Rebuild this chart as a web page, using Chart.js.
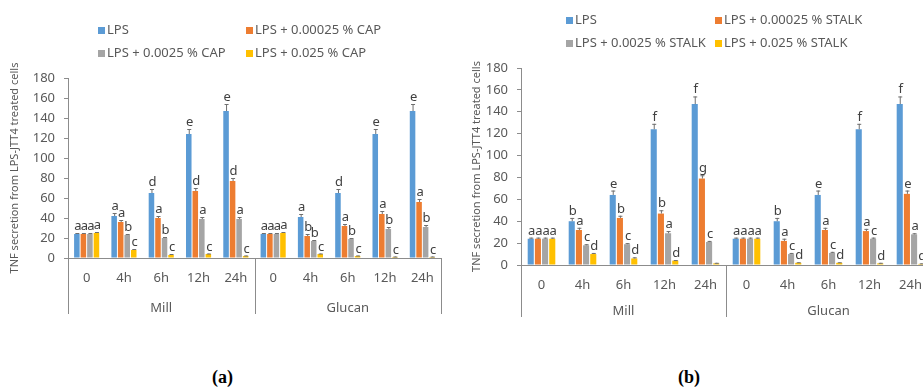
<!DOCTYPE html>
<html>
<head>
<meta charset="utf-8">
<script src="https://cdn.jsdelivr.net/npm/chart.js@4/dist/chart.umd.min.js"></script>
<style>
  body { margin: 0; background: #fff; overflow: hidden; width: 923px; height: 389px; position: relative; }
  canvas { position: absolute; top: 0; }
  #chartA { left: 0; }
  #chartB { left: 460px; }
  .cap { position: absolute; font: bold 18px "Liberation Serif", "DejaVu Serif", serif; color: #000; }
</style>
</head>
<body>
<canvas id="chartA" width="460" height="330"></canvas>
<canvas id="chartB" width="490" height="330"></canvas>
<div class="cap" style="left:212px; top:367px">(a)</div>
<div class="cap" style="left:678px; top:367px">(b)</div>
<script>
const times = ['0', '4h', '6h', '12h', '24h', '0', '4h', '6h', '12h', '24h']
const groups = ['Mill', 'Glucan']
const colors = ['#5B9BD5', '#ED7D31', '#A5A5A5', '#FFC000']
const yTitle = 'TNF secretion from LPS-JTT4 treated cells'

// (a) CAP
const capNames = ['LPS', 'LPS + 0.00025 % CAP', 'LPS + 0.0025 % CAP', 'LPS + 0.025 % CAP']
const capLps = [24, 42, 65, 124, 147, 24, 41, 65, 124, 147]
const capLow = [24, 36, 40, 67, 77, 24, 22, 32, 44, 56]
const capMid = [24, 23, 20, 39, 39, 24, 17, 19, 29, 31]
const capHigh = [25, 8, 3, 4, 2, 25, 4, 2, 1, 1]
const capLpsErr = [1, 3, 4, 5, 7, 1, 3, 4, 5, 7]
const capLowErr = [1, 2, 2, 3, 3, 1, 2, 2, 3, 3]
const capMidErr = [1, 1, 1, 2, 2, 1, 1, 1, 2, 2]
const capHighErr = [1, 1, 1, 0.5, 0.5, 1, 0.5, 0.5, 0.5, 0.5]
const capLpsTag = ['a', 'a', 'd', 'e', 'e', 'a', 'a', 'd', 'e', 'e']
const capLowTag = ['a', 'a', 'a', 'd', 'd', 'a', 'b', 'a', 'a', 'a']
const capMidTag = ['a', 'b', 'b', 'a', 'a', 'a', 'b', 'b', 'b', 'b']
const capHighTag = ['a', 'c', 'c', 'c', 'c', 'a', 'c', 'c', 'c', 'c']

// (b) STALK
const stalkNames = ['LPS', 'LPS + 0.00025 % STALK', 'LPS + 0.0025 % STALK', 'LPS + 0.025 % STALK']
const stalkLps = [24, 40, 64, 124, 147, 24, 40, 64, 124, 147]
const stalkLow = [24, 32, 43, 47, 79, 24, 22, 32, 31, 65]
const stalkMid = [24, 18, 19, 29, 21, 24, 10, 11, 24, 28]
const stalkHigh = [24, 10, 6, 4, 1.5, 24, 2, 2, 1.5, 1]
const stalkLpsErr = [1, 3, 4, 5, 7, 1, 3, 4, 5, 7]
const stalkLowErr = [1, 2, 2, 3, 3, 1, 2, 2, 2, 3]
const stalkMidErr = [1, 1, 1, 2, 1, 1, 1, 1, 1, 1]
const stalkHighErr = [1, 1, 1, 0.5, 0.5, 1, 0.5, 0.5, 0.5, 0.5]
const stalkLpsTag = ['a', 'b', 'e', 'f', 'f', 'a', 'b', 'e', 'f', 'f']
const stalkLowTag = ['a', 'a', 'b', 'b', 'g', 'a', 'a', 'a', 'a', 'e']
const stalkMidTag = ['a', 'c', 'c', 'a', 'c', 'a', 'c', 'c', 'c', 'a']
const stalkHighTag = ['a', 'd', 'd', 'd', '', 'a', 'd', 'd', 'd', 'd']

const font = '"Noto Sans", "Open Sans", sans-serif'
const textColor = '#595959'
const axisColor = '#8c8c8c'

// error bars, letters, legend, group labels
const extras = {
  id: 'extras',
  afterDatasetsDraw(chart) {
    const ctx = chart.ctx
    const y = chart.scales.y
    ctx.save()
    chart.data.datasets.forEach((ds, i) => {
      chart.getDatasetMeta(i).data.forEach((bar, j) => {
        const top = y.getPixelForValue(ds.data[j] + ds.errors[j])
        ctx.strokeStyle = '#6f6f6f'
        ctx.lineWidth = 1
        ctx.beginPath()
        ctx.moveTo(bar.x + 0.5, y.getPixelForValue(ds.data[j]))
        ctx.lineTo(bar.x + 0.5, top)
        ctx.moveTo(bar.x - 1.5, top + 0.5)
        ctx.lineTo(bar.x + 2.5, top + 0.5)
        ctx.stroke()
        ctx.fillStyle = '#404040'
        ctx.font = '13px ' + font
        ctx.textAlign = 'center'
        ctx.textBaseline = 'alphabetic'
        ctx.fillText(ds.tags[j], bar.x + 1, top - 3)
      })
    })
    ctx.restore()
  },
  afterDraw(chart, args, opts) {
    const ctx = chart.ctx
    const area = chart.chartArea
    const x = chart.scales.x
    ctx.save()
    // legend
    ctx.font = '13px ' + font
    ctx.textBaseline = 'middle'
    ctx.textAlign = 'left'
    chart.data.datasets.forEach((ds, i) => {
      const lx = opts.legendX[i % 2]
      const ly = opts.legendY[Math.floor(i / 2)]
      ctx.fillStyle = ds.backgroundColor
      ctx.fillRect(lx, ly - 3, 7, 7)
      ctx.fillStyle = textColor
      ctx.fillText(ds.label, lx + 9, ly)
    })
    // group separators and labels
    const mid = (x.getPixelForValue(4) + x.getPixelForValue(5)) / 2
    const edges = [area.left, mid, area.right]
    ctx.strokeStyle = axisColor
    ctx.lineWidth = 1
    ctx.beginPath()
    edges.forEach(e => {
      ctx.moveTo(Math.round(e) + 0.5, area.bottom)
      ctx.lineTo(Math.round(e) + 0.5, area.bottom + opts.sepLen)
    })
    ctx.stroke()
    ctx.font = '13px ' + font
    ctx.textAlign = 'center'
    ctx.fillStyle = textColor
    groups.forEach((g, i) => {
      ctx.fillText(g, (edges[i] + edges[i + 1]) / 2, area.bottom + opts.groupY)
    })
    ctx.restore()
  }
}

function makeChart(id, names, series, errs, tags, box) {
  const datasets = series.map((s, i) => ({
    label: names[i],
    data: s,
    errors: errs[i],
    tags: tags[i],
    backgroundColor: colors[i],
    categoryPercentage: 0.7,
    barPercentage: 0.85
  }))
  return new Chart(document.getElementById(id), {
    type: 'bar',
    data: { labels: times, datasets },
    options: {
      responsive: false,
      animation: false,
      layout: { padding: { left: box.padLeft, right: 19, top: box.top, bottom: 0 } },
      plugins: {
        legend: { display: false },
        tooltip: { enabled: false },
        extras: box
      },
      scales: {
        x: {
          grid: { display: false, drawTicks: false },
          border: { color: axisColor },
          ticks: { padding: 12, autoSkip: false, maxRotation: 0, color: textColor, font: { family: font, size: 13 } },
          afterFit(s) { s.height = box.xHeight }
        },
        y: {
          min: 0,
          max: 180,
          ticks: { stepSize: 20, padding: 9, color: textColor, font: { family: font, size: 13 } },
          grid: { drawOnChartArea: false, tickLength: 4, color: axisColor },
          border: { color: axisColor },
          title: { display: true, text: yTitle, color: textColor, font: { family: font, size: 11 }, padding: 0 },
          afterFit(s) { s.width = box.yWidth }
        }
      }
    },
    plugins: [extras]
  })
}

const chartA = makeChart('chartA', capNames,
  [capLps, capLow, capMid, capHigh],
  [capLpsErr, capLowErr, capMidErr, capHighErr],
  [capLpsTag, capLowTag, capMidTag, capHighTag],
  { padLeft: 8, yWidth: 60, top: 78, xHeight: 72, legendX: [98, 246], legendY: [30, 53], sepLen: 56, groupY: 50 })

const chartB = makeChart('chartB', stalkNames,
  [stalkLps, stalkLow, stalkMid, stalkHigh],
  [stalkLpsErr, stalkLowErr, stalkMidErr, stalkHighErr],
  [stalkLpsTag, stalkLowTag, stalkMidTag, stalkHighTag],
  { padLeft: 10, yWidth: 51, top: 68, xHeight: 65, legendX: [106, 255], legendY: [20, 43], sepLen: 52, groupY: 46 })
</script>
</body>
</html>
